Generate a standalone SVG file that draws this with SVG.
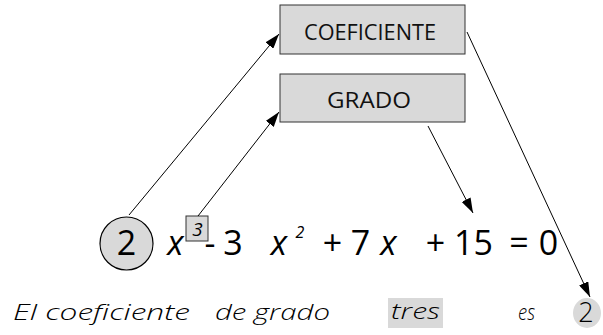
<svg xmlns="http://www.w3.org/2000/svg" width="603" height="335" viewBox="0 0 603 335">
<style>
.box{fill:#d9d9d9;stroke:#333;stroke-width:1}
.lbl{font-family:"Open Sans","Liberation Sans",sans-serif;font-size:21px;fill:#111}
.eq{font-family:"Open Sans","Liberation Sans",sans-serif;font-size:34px;fill:#000;text-anchor:middle}
.it{font-style:italic}
.cur{font-family:"Open Sans","DejaVu Sans",sans-serif;font-style:italic;font-weight:300;font-size:22px;fill:#000}
.con{stroke:#000;stroke-width:1;fill:none;marker-end:url(#ah)}
</style>
<defs>
<marker id="ah" viewBox="0 0 15 10" refX="15" refY="5" markerWidth="15" markerHeight="10" markerUnits="userSpaceOnUse" orient="auto">
<path d="M0,0 L15,5 L0,10 Z" fill="#000"/>
</marker>
</defs>
<g id="coeficiente">
<rect class="box" x="280" y="5" width="185" height="49"/>
<text class="lbl" x="304" y="39.5" textLength="132" lengthAdjust="spacingAndGlyphs">COEFICIENTE</text>
</g>
<g id="grado">
<rect class="box" x="280" y="74" width="185" height="48"/>
<text class="lbl" x="327" y="107.5" textLength="84" lengthAdjust="spacingAndGlyphs">GRADO</text>
</g>
<g id="coef-circle">
<circle cx="126.5" cy="243.5" r="26.5" fill="#d9d9d9" stroke="#000" stroke-width="1.2"/>
<text class="eq" x="126.5" y="255">2</text>
</g>
<g id="exp-box">
<rect class="box" x="186" y="216" width="22" height="25"/>
<text class="eq it" x="197.5" y="236" style="font-size:19px">3</text>
</g>
<g id="equation">
<text class="eq it" x="175.5" y="255">x</text>
<text class="eq" x="210" y="255">-</text>
<text class="eq" x="233" y="255">3</text>
<text class="eq it" x="279" y="255">x</text>
<text class="eq it" x="300" y="238" style="font-size:16px">2</text>
<text class="eq" x="332.5" y="255">+</text>
<text class="eq" x="360.5" y="255">7</text>
<text class="eq it" x="388.5" y="255">x</text>
<text class="eq" x="435.5" y="255">+</text>
<text class="eq" x="473.5" y="255">15</text>
<text class="eq" x="519" y="255">=</text>
<text class="eq" x="548.5" y="255">0</text>
</g>
<g id="sentence">
<text class="cur" x="13" y="320" textLength="177" lengthAdjust="spacingAndGlyphs">El coeficiente</text>
<text class="cur" x="215" y="320" textLength="115" lengthAdjust="spacingAndGlyphs">de grado</text>
<rect x="388" y="298" width="55" height="30" fill="#d9d9d9"/>
<text class="cur" x="391" y="319" textLength="49" lengthAdjust="spacingAndGlyphs">tres</text>
<text class="cur" x="518" y="320" textLength="17" lengthAdjust="spacingAndGlyphs">es</text>
<ellipse cx="587" cy="313" rx="14" ry="15" fill="#d9d9d9"/>
<text x="586" y="322" style="font-family:'Open Sans','Liberation Sans',sans-serif;font-size:27px;font-weight:300;text-anchor:middle">2</text>
</g>
<g id="connectors">
<line class="con" x1="129" y1="215" x2="279" y2="34"/>
<line class="con" x1="198" y1="216" x2="279" y2="112"/>
<line class="con" x1="428" y1="126" x2="473" y2="213"/>
<line class="con" x1="467" y1="32" x2="590" y2="297"/>
</g>
</svg>
